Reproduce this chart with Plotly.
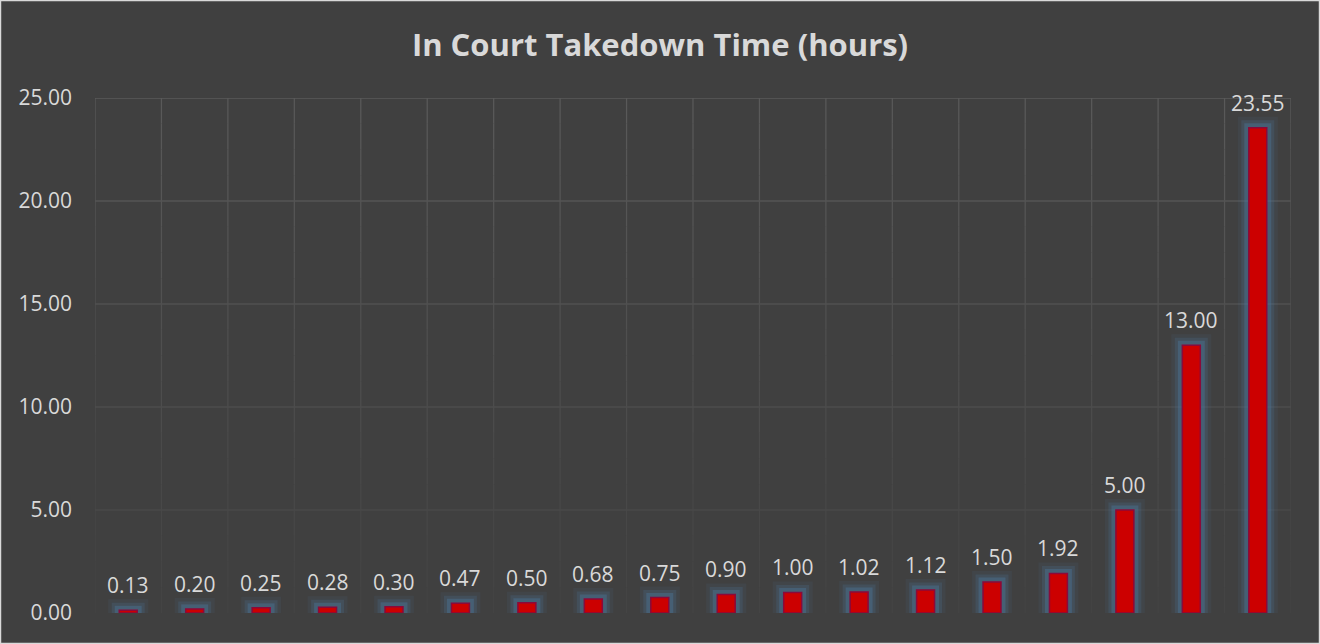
import plotly.graph_objects as go

# ── 数据 ──
categories = list(range(1, 19))
hours = [0.13, 0.20, 0.25, 0.28, 0.30, 0.47, 0.50, 0.68, 0.75,
         0.90, 1.00, 1.02, 1.12, 1.50, 1.92, 5.00, 13.00, 23.55]
labels = [f"{v:.2f}" for v in hours]
y_ticks = [0, 5, 10, 15, 20, 25]

W, H = 1320, 644
M = dict(l=95, r=29, t=98, b=31)
BG = "#404040"
TXT = "#d9d9d9"
FONT = "Open Sans, Noto Sans, sans-serif"
YMAX = 25


def grid_col(y):
    # 网格线从上往下逐渐变淡
    t = y / YMAX
    g = int(round(0x43 + (0x5a - 0x43) * t))
    return f"rgb({g},{g},{g})"


traces = []
# 发光层（蓝色光晕，多层叠加模拟柔和边缘）
for lw, a in [(22, 0.10), (15, 0.20), (9, 0.38)]:
    traces.append(go.Bar(
        x=categories, y=hours, width=0.27,
        marker=dict(color="rgba(70,110,150,0.0)",
                    line=dict(color=f"rgba(75,120,160,{a})", width=lw)),
        hoverinfo="skip", showlegend=False,
    ))

traces.append(go.Bar(
    x=categories, y=hours, width=0.27,
    marker=dict(color="#cc0000", line=dict(color="#8a0a3a", width=1.5)),
    showlegend=False,
))

fig = go.Figure(data=traces)

# 数据标签
for xv, yv, t in zip(categories, hours, labels):
    fig.add_annotation(x=xv, y=yv, text=t, showarrow=False,
                       xanchor="center", yanchor="bottom", yshift=9,
                       font=dict(size=21, color=TXT, family=FONT))

pw = W - M["l"] - M["r"]
ph = H - M["t"] - M["b"]

shapes = []
# 竖向网格线（类别边界），分段渐变
steps = [i * 1.25 for i in range(21)]
for k in range(len(categories) + 1):
    xv = categories[0] - 0.5 + k
    for y0, y1 in zip(steps[:-1], steps[1:]):
        shapes.append(dict(type="line", xref="x", yref="y",
                           x0=xv, x1=xv, y0=y0, y1=y1,
                           line=dict(color=grid_col((y0 + y1) / 2), width=1.3),
                           layer="below"))
# 横向网格线
for yv in y_ticks[1:]:
    shapes.append(dict(type="line", xref="x", yref="y",
                       x0=categories[0] - 0.5, x1=categories[-1] + 0.5,
                       y0=yv, y1=yv,
                       line=dict(color=grid_col(yv), width=1.3), layer="below"))
# 外框
shapes.append(dict(type="rect", xref="paper", yref="paper",
                   x0=-M["l"] / pw + 0.0004, x1=1 + M["r"] / pw - 0.0004,
                   y0=-M["b"] / ph + 0.001, y1=1 + M["t"] / ph - 0.001,
                   line=dict(color="#d9d9d9", width=1.5), layer="below"))

fig.update_layout(
    width=W, height=H,
    barmode="overlay",
    paper_bgcolor=BG, plot_bgcolor=BG,
    margin=M,
    title=dict(text="<b>In Court Takedown Time (hours)</b>",
               x=0.5, xanchor="center", y=0.93, yanchor="middle",
               font=dict(size=31, color=TXT, family=FONT)),
    xaxis=dict(range=[0.5, 18.5], showticklabels=False, showgrid=False,
               zeroline=False, ticks="", showline=False),
    yaxis=dict(range=[0, YMAX], tickvals=y_ticks, tickformat=".2f",
               showgrid=False, zeroline=False, ticks="",
               ticklabelstandoff=22,
               tickfont=dict(size=21, color=TXT, family=FONT)),
    shapes=shapes,
)

fig.write_html("out.html",
               config={"displayModeBar": False},
               post_script="document.body.style.margin='0';"
                           "document.body.style.overflow='hidden';")
